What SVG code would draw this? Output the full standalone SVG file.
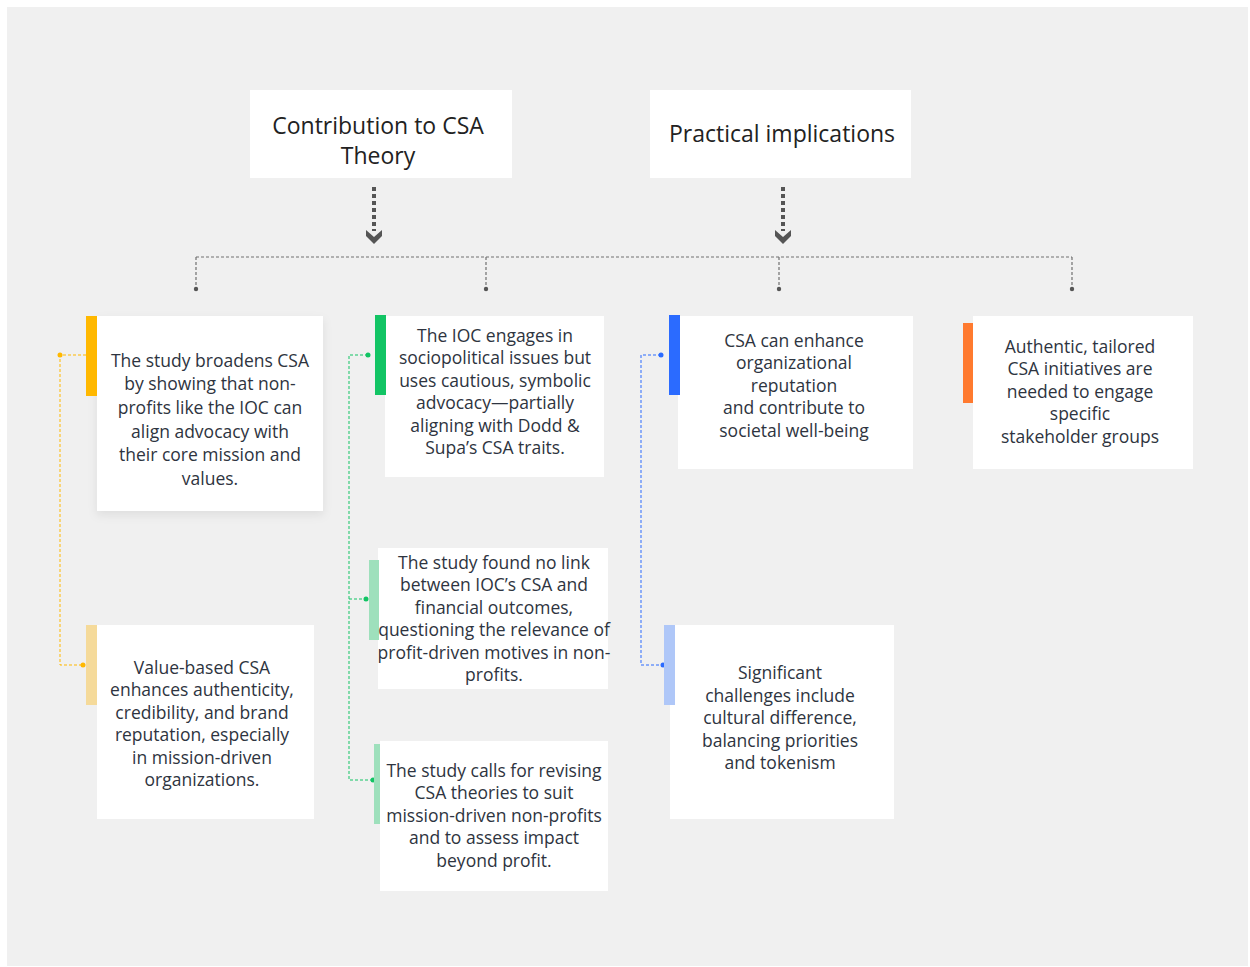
<svg xmlns="http://www.w3.org/2000/svg" width="1250" height="967" viewBox="0 0 1250 967">
<defs>
<style>
.card{fill:#ffffff}
.t{font-family:"Open Sans","Noto Sans",sans-serif;font-size:17.5px;fill:#2e3440;text-anchor:middle}
.h{font-family:"Open Sans","Noto Sans",sans-serif;font-size:23px;fill:#222222;text-anchor:middle}
.tree{fill:none;stroke:#707070;stroke-width:1.2;stroke-dasharray:3 2}
.arr{fill:none;stroke:#555555;stroke-width:4;stroke-dasharray:4 3}
</style>
<filter id="sh" x="-20%" y="-20%" width="140%" height="150%">
<feDropShadow dx="0" dy="4" stdDeviation="5" flood-color="#000000" flood-opacity="0.08"/>
</filter>
</defs>
<rect x="0" y="0" width="1250" height="967" fill="#ffffff"/>
<rect x="7" y="7" width="1241" height="959" fill="#f0f0f0"/>

<g id="header-csa-theory">
<rect class="card" x="250" y="90" width="262" height="88"/>
<text class="h" x="378" y="134">Contribution to CSA</text>
<text class="h" x="378" y="164">Theory</text>
</g>
<g id="header-practical">
<rect class="card" x="650" y="90" width="261" height="88"/>
<text class="h" x="782" y="142">Practical implications</text>
</g>

<g id="connectors">
<path class="arr" d="M374 187 V231"/>
<path d="M366 230 L374 237 L382 230 L382 236 L374 244 L366 236 Z" fill="#555555"/>
<path class="arr" d="M783 187 V231"/>
<path d="M775 230 L783 237 L791 230 L791 236 L783 244 L775 236 Z" fill="#555555"/>
<path class="tree" d="M196 257 H1072 M196 257 V289 M486 257 V289 M779 257 V289 M1072 257 V289"/>
<circle cx="196" cy="289" r="2.2" fill="#555555"/>
<circle cx="486" cy="289" r="2.2" fill="#555555"/>
<circle cx="779" cy="289" r="2.2" fill="#555555"/>
<circle cx="1072" cy="289" r="2.2" fill="#555555"/>

<path d="M86 355 H60 V665 H83" fill="none" stroke="#FFB800" stroke-width="1" stroke-dasharray="3 2"/>
<circle cx="60" cy="355" r="2.5" fill="#FFB800"/>
<circle cx="83" cy="665" r="2.5" fill="#FFB800"/>

<path d="M368 355 H349 V780 H373 M349 599 H366" fill="none" stroke="#12C464" stroke-width="1" stroke-dasharray="3 2"/>
<circle cx="368" cy="355" r="2.5" fill="#12C464"/>
<circle cx="366" cy="599" r="2.5" fill="#12C464"/>
<circle cx="373" cy="780" r="2.5" fill="#12C464"/>

<path d="M661 355 H641 V665 H663" fill="none" stroke="#2B6BFF" stroke-width="1" stroke-dasharray="3 2"/>
<circle cx="661" cy="355" r="2.5" fill="#2B6BFF"/>
<circle cx="663" cy="665" r="2.5" fill="#2B6BFF"/>
</g>

<g id="card-broadens">
<rect class="card" x="97" y="316" width="226" height="195" filter="url(#sh)"/>
<rect x="86" y="316" width="11" height="80" fill="#FFB800"/>
<text class="t" x="210" y="367">The study broadens CSA</text>
<text class="t" x="210" y="390">by showing that non-</text>
<text class="t" x="210" y="414">profits like the IOC can</text>
<text class="t" x="210" y="438">align advocacy with</text>
<text class="t" x="210" y="461">their core mission and</text>
<text class="t" x="210" y="485">values.</text>
</g>

<g id="card-ioc-engages">
<rect class="card" x="385" y="316" width="219" height="161"/>
<rect x="375" y="315" width="11" height="80" fill="#12C464"/>
<text class="t" x="495" y="342">The IOC engages in</text>
<text class="t" x="495" y="364">sociopolitical issues but</text>
<text class="t" x="495" y="387">uses cautious, symbolic</text>
<text class="t" x="495" y="409">advocacy—partially</text>
<text class="t" x="495" y="432">aligning with Dodd &amp;</text>
<text class="t" x="495" y="454">Supa’s CSA traits.</text>
</g>

<g id="card-reputation">
<rect class="card" x="678" y="316" width="235" height="153"/>
<rect x="669" y="315" width="11" height="80" fill="#2B6BFF"/>
<text class="t" x="794" y="347">CSA can enhance</text>
<text class="t" x="794" y="369">organizational</text>
<text class="t" x="794" y="392">reputation</text>
<text class="t" x="794" y="414">and contribute to</text>
<text class="t" x="794" y="437">societal well-being</text>
</g>

<g id="card-authentic">
<rect class="card" x="973" y="316" width="220" height="153"/>
<rect x="963" y="323" width="10" height="80" fill="#FF7A2F"/>
<text class="t" x="1080" y="353">Authentic, tailored</text>
<text class="t" x="1080" y="375">CSA initiatives are</text>
<text class="t" x="1080" y="398">needed to engage</text>
<text class="t" x="1080" y="420">specific</text>
<text class="t" x="1080" y="443">stakeholder groups</text>
</g>

<g id="card-value-based">
<rect class="card" x="97" y="625" width="217" height="194"/>
<rect x="86" y="625" width="11" height="80" fill="#F5DA9A"/>
<text class="t" x="202" y="674">Value-based CSA</text>
<text class="t" x="202" y="696">enhances authenticity,</text>
<text class="t" x="202" y="719">credibility, and brand</text>
<text class="t" x="202" y="741">reputation, especially</text>
<text class="t" x="202" y="764">in mission-driven</text>
<text class="t" x="202" y="786">organizations.</text>
</g>

<g id="card-no-link">
<rect class="card" x="378" y="548" width="230" height="141"/>
<rect x="369" y="560" width="10" height="80" fill="#9EE0BC"/>
<text class="t" x="494" y="569">The study found no link</text>
<text class="t" x="494" y="591">between IOC’s CSA and</text>
<text class="t" x="494" y="614">financial outcomes,</text>
<text class="t" x="494" y="636">questioning the relevance of</text>
<text class="t" x="494" y="659">profit-driven motives in non-</text>
<text class="t" x="494" y="681">profits.</text>
</g>

<g id="card-revising">
<rect class="card" x="380" y="741" width="228" height="150"/>
<rect x="374" y="744" width="6" height="80" fill="#9EE0BC"/>
<text class="t" x="494" y="777">The study calls for revising</text>
<text class="t" x="494" y="799">CSA theories to suit</text>
<text class="t" x="494" y="822">mission-driven non-profits</text>
<text class="t" x="494" y="844">and to assess impact</text>
<text class="t" x="494" y="867">beyond profit.</text>
</g>

<g id="card-challenges">
<rect class="card" x="670" y="625" width="224" height="194"/>
<rect x="664" y="625" width="11" height="80" fill="#AFC7F8"/>
<text class="t" x="780" y="679">Significant</text>
<text class="t" x="780" y="702">challenges include</text>
<text class="t" x="780" y="724">cultural difference,</text>
<text class="t" x="780" y="747">balancing priorities</text>
<text class="t" x="780" y="769">and tokenism</text>
</g>
</svg>
